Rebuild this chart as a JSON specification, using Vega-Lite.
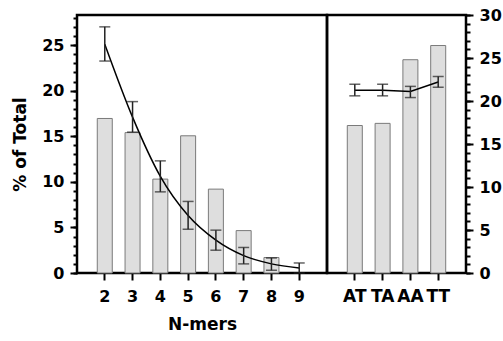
{
  "$schema": "https://vega.github.io/schema/vega-lite/v6.json",
  "autosize": {"type": "pad"},
  "padding": {"left": 10, "top": 5, "right": 5, "bottom": 5},
  "bounds": "flush",
  "spacing": 0,
  "background": "white",
  "datasets": {
    "nmers": [
      {"n": "2", "pct": 16.95, "mean": 25.1, "lo": 23.25, "hi": 27.0},
      {"n": "3", "pct": 15.4, "mean": 17.1, "lo": 15.45, "hi": 18.8},
      {"n": "4", "pct": 10.3, "mean": 10.6, "lo": 8.9, "hi": 12.3},
      {"n": "5", "pct": 15.05, "mean": 6.3, "lo": 4.8, "hi": 7.85},
      {"n": "6", "pct": 9.2, "mean": 3.6, "lo": 2.5, "hi": 4.7},
      {"n": "7", "pct": 4.65, "mean": 1.9, "lo": 1.0, "hi": 2.8},
      {"n": "8", "pct": 1.7, "mean": 1.0, "lo": 0.3, "hi": 1.65},
      {"n": "9", "pct": null, "mean": 0.55, "lo": 0.0, "hi": 1.1}
    ],
    "dimers": [
      {"d": "AT", "pct": 17.15, "mean": 21.25, "lo": 20.6, "hi": 21.95},
      {"d": "TA", "pct": 17.4, "mean": 21.25, "lo": 20.6, "hi": 21.95},
      {"d": "AA", "pct": 24.8, "mean": 21.1, "lo": 20.4, "hi": 21.7},
      {"d": "TT", "pct": 26.45, "mean": 22.2, "lo": 21.6, "hi": 22.85}
    ]
  },
  "hconcat": [
    {
      "width": 250,
      "height": 258,
      "data": {"name": "nmers"},
      "resolve": {"axis": {"y": "independent"}},
      "encoding": {
        "x": {
          "field": "n",
          "type": "ordinal",
          "scale": {"domain": ["2", "3", "4", "5", "6", "7", "8", "9"], "paddingInner": 0.46, "paddingOuter": 0.73},
          "axis": {"title": "N-mers", "labelAngle": 0, "tickSize": 7, "tickWidth": 2, "labelPadding": 8, "titlePadding": 12, "labelFontSize": 16}
        }
      },
      "layer": [
        {
          "mark": {"type": "bar", "fill": "#dedede", "stroke": "#7a7a7a", "strokeWidth": 1},
          "transform": [{"filter": "datum.pct != null"}],
          "encoding": {
            "y": {
              "field": "pct",
              "type": "quantitative",
              "scale": {"domain": [0, 28.3], "nice": false, "zero": true},
              "axis": {
                "title": "% of Total",
                "orient": "left",
                "values": [0, 5, 10, 15, 20, 25],
                "labelOverlap": false,
                "labelFlush": false,
                "labelFontSize": 16,
                "tickSize": 7,
                "tickWidth": 2,
                "labelPadding": 6,
                "titlePadding": 12
              }
            }
          }
        },
        {
          "mark": {"type": "line", "color": "#000", "strokeWidth": 1.5, "interpolate": "monotone"},
          "encoding": {
            "y": {
              "field": "mean",
              "type": "quantitative",
              "axis": {
                "title": null,
                "orient": "left",
                "values": [0,1,2,3,4,5,6,7,8,9,10,11,12,13,14,15,16,17,18,19,20,21,22,23,24,25,26,27,28],
                "labels": false,
                "tickSize": 4,
                "tickWidth": 2
              }
            }
          }
        },
        {
          "mark": {"type": "rule", "color": "#222", "strokeWidth": 1.5},
          "encoding": {"y": {"field": "lo", "type": "quantitative", "axis": null}, "y2": {"field": "hi"}}
        },
        {
          "mark": {"type": "tick", "orient": "horizontal", "color": "#222", "size": 11, "thickness": 1.5},
          "encoding": {"y": {"field": "lo", "type": "quantitative", "axis": null}}
        },
        {
          "mark": {"type": "tick", "orient": "horizontal", "color": "#222", "size": 11, "thickness": 1.5},
          "encoding": {"y": {"field": "hi", "type": "quantitative", "axis": null}}
        }
      ]
    },
    {
      "width": 139,
      "height": 258,
      "data": {"name": "dimers"},
      "resolve": {"axis": {"y": "independent"}},
      "encoding": {
        "x": {
          "field": "d",
          "type": "ordinal",
          "sort": null,
          "scale": {"domain": ["AT", "TA", "AA", "TT"], "paddingInner": 0.46, "paddingOuter": 0.73},
          "axis": {"title": null, "labelAngle": 0, "tickSize": 7, "tickWidth": 2, "labelPadding": 8, "labelFontSize": 17}
        }
      },
      "layer": [
        {
          "mark": {"type": "bar", "fill": "#dedede", "stroke": "#7a7a7a", "strokeWidth": 1},
          "encoding": {
            "y": {
              "field": "pct",
              "type": "quantitative",
              "scale": {"domain": [0, 30], "nice": false},
              "axis": {
                "title": null,
                "orient": "right",
                "values": [0, 5, 10, 15, 20, 25, 30],
                "labelOverlap": false,
                "labelFlush": false,
                "labelFontSize": 16,
                "tickSize": 7,
                "tickWidth": 2,
                "labelPadding": 6
              }
            }
          }
        },
        {
          "mark": {"type": "line", "color": "#000", "strokeWidth": 1.5},
          "encoding": {
            "y": {
              "field": "mean",
              "type": "quantitative",
              "axis": {
                "title": null,
                "orient": "right",
                "values": [0,1,2,3,4,5,6,7,8,9,10,11,12,13,14,15,16,17,18,19,20,21,22,23,24,25,26,27,28,29,30],
                "labels": false,
                "tickSize": 4,
                "tickWidth": 2
              }
            }
          }
        },
        {
          "mark": {"type": "rule", "color": "#222", "strokeWidth": 1.5},
          "encoding": {"y": {"field": "lo", "type": "quantitative", "axis": null}, "y2": {"field": "hi"}}
        },
        {
          "mark": {"type": "tick", "orient": "horizontal", "color": "#222", "size": 11, "thickness": 1.5},
          "encoding": {"y": {"field": "lo", "type": "quantitative", "axis": null}}
        },
        {
          "mark": {"type": "tick", "orient": "horizontal", "color": "#222", "size": 11, "thickness": 1.5},
          "encoding": {"y": {"field": "hi", "type": "quantitative", "axis": null}}
        }
      ]
    }
  ],
  "config": {
    "view": {"stroke": "#000", "strokeWidth": 2.5},
    "axis": {
      "grid": false,
      "domain": false,
      "labelFont": "DejaVu Sans",
      "labelFontWeight": "bold",
      "labelColor": "#000",
      "titleFont": "DejaVu Sans",
      "titleFontWeight": "bold",
      "titleFontSize": 17,
      "titleColor": "#000",
      "tickColor": "#000"
    }
  }
}
